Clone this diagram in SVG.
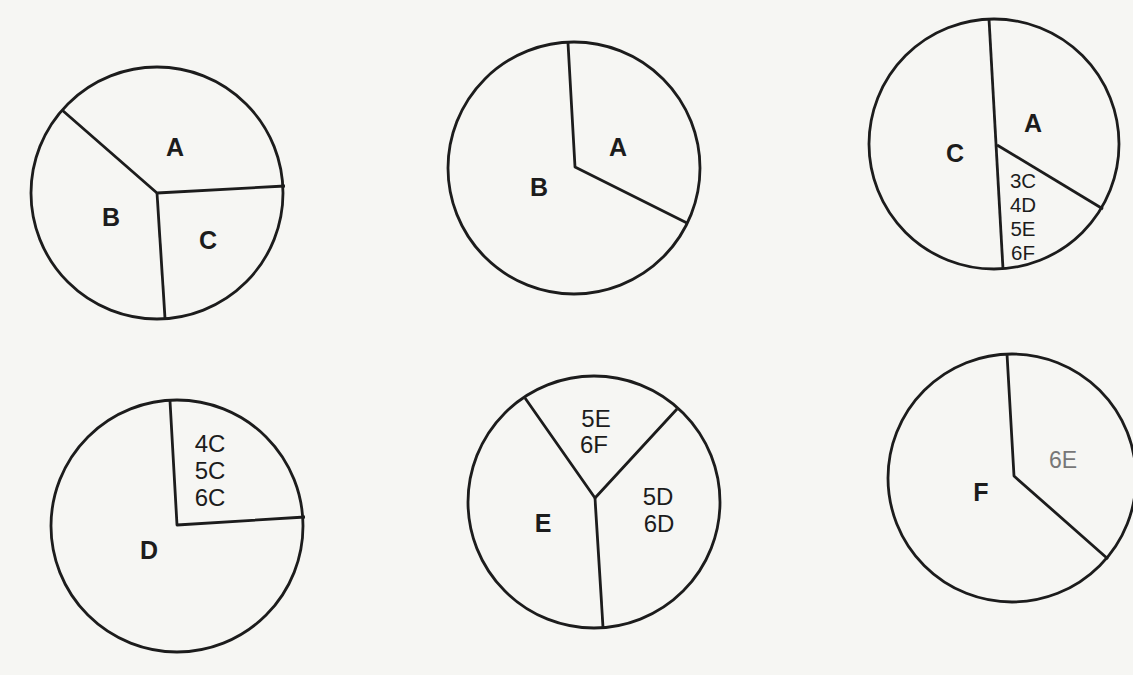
<svg xmlns="http://www.w3.org/2000/svg" width="1133" height="675" viewBox="0 0 1133 675">
<style>
.c{fill:none;stroke:#1c1c1c;stroke-width:2.8}
.s{fill:none;stroke:#1c1c1c;stroke-width:2.8;stroke-linejoin:round}
.b{font-family:"Liberation Sans",Arial,sans-serif;font-weight:bold;font-size:25px;fill:#1c1c1c;text-anchor:middle;dominant-baseline:central}
.r{font-family:"Liberation Sans",Arial,sans-serif;font-size:23px;fill:#1c1c1c;text-anchor:middle;dominant-baseline:central}
.t{font-size:20.5px}
</style>
<rect width="1133" height="675" fill="#f6f6f3"/>
<g id="pie1">
<circle class="c" cx="157" cy="193" r="126"/>
<polyline class="s" points="62,110 157,193 285,186"/>
<line class="s" x1="157" y1="193" x2="165" y2="318"/>
<text class="b" x="175" y="147">A</text>
<text class="b" x="111" y="217">B</text>
<text class="b" x="208" y="240">C</text>
</g>
<g id="pie2">
<circle class="c" cx="574" cy="168" r="126"/>
<polyline class="s" points="568,43 575,167 687,223"/>
<text class="b" x="618" y="147">A</text>
<text class="b" x="539" y="187">B</text>
</g>
<g id="pie3">
<circle class="c" cx="994" cy="144" r="125"/>
<line class="s" x1="989" y1="19" x2="1003" y2="269"/>
<line class="s" x1="997" y1="145" x2="1103" y2="209"/>
<text class="b" x="955" y="153">C</text>
<text class="b" x="1033" y="123">A</text>
<text class="r t" x="1023" y="180">3C</text>
<text class="r t" x="1023" y="204">4D</text>
<text class="r t" x="1023" y="228">5E</text>
<text class="r t" x="1023" y="252">6F</text>
</g>
<g id="pie4">
<circle class="c" cx="177" cy="526" r="126"/>
<polyline class="s" points="170,401 177,525 305,517"/>
<text class="r" x="210" y="443" style="font-size:24px">4C</text>
<text class="r" x="210" y="470" style="font-size:24px">5C</text>
<text class="r" x="210" y="497" style="font-size:24px">6C</text>
<text class="b" x="149" y="550">D</text>
</g>
<g id="pie5">
<circle class="c" cx="594" cy="502" r="126"/>
<polyline class="s" points="525,398 595,498 677,409"/>
<line class="s" x1="595" y1="498" x2="603" y2="627"/>
<text class="r" x="596" y="418" style="font-size:24px">5E</text>
<text class="r" x="594" y="444" style="font-size:24px">6F</text>
<text class="r" x="658" y="496" style="font-size:24px">5D</text>
<text class="r" x="659" y="523" style="font-size:24px">6D</text>
<text class="b" x="543" y="523">E</text>
</g>
<g id="pie6">
<circle class="c" cx="1012" cy="478" r="124"/>
<polyline class="s" points="1007,354 1014,476 1108,559"/>
<text class="r" x="1063" y="460" style="fill:#777">6E</text>
<text class="b" x="981" y="492">F</text>
</g>
</svg>
